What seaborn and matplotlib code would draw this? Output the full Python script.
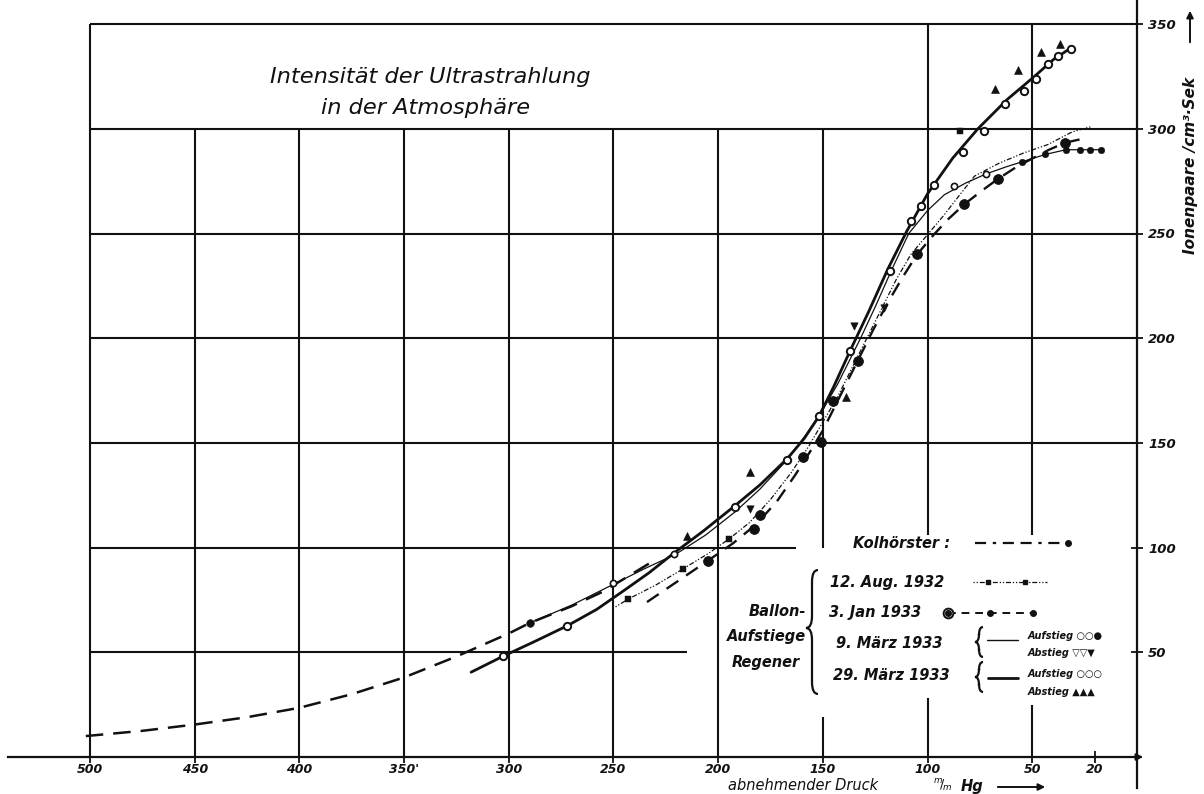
import numpy as np
import pandas as pd
import matplotlib
matplotlib.use("Agg")
import matplotlib.pyplot as plt
from matplotlib.path import Path
from matplotlib.patches import PathPatch
import seaborn as sns

sns.set_theme(style="white")
plt.rcParams["font.family"] = ["DejaVu Sans"]
INK = "#111111"

# ---- data (pressure mm Hg, ion pairs / cm3 s) ----
kol_p = [502, 475, 450, 425, 400, 375, 350, 325, 300, 290, 270, 255, 232]
kol_i = [10, 12.5, 15.5, 19, 23.5, 30, 38, 48, 59, 64, 72, 79, 93]
kol_dot_p = [290]
kol_dot_i = [64]

m29_p = [318, 303, 288, 272, 258, 245, 233, 221, 207, 192, 180, 167, 159, 152, 145,
         137, 128, 119, 110, 100, 88, 76, 62, 49, 40, 31]
m29_i = [40.5, 48, 55, 62.7, 70.5, 79.5, 88, 97.5, 108, 120, 130, 142.5, 152, 162.5, 176.5,
         194, 213, 233, 251, 269, 286, 300, 314, 325, 333, 339]
m29_up_p = [303, 272, 192, 167, 152, 137, 118, 108, 103, 97, 83, 73, 63, 54, 48, 42.5, 37.7, 31.6]
m29_up_i = [48, 62.7, 119.4, 142, 163, 194, 232, 256, 263, 273, 289, 299, 312, 318, 324, 331, 335, 338]
m29_dn_p = [215, 185, 139, 68, 57, 46, 37]
m29_dn_i = [105.5, 136, 172, 319, 328, 336.5, 340.5]

m9_p = [290, 270, 250, 235, 220, 206, 192, 180, 167, 158, 150, 143, 136, 132, 125,
        117, 109, 100, 92, 82, 72, 62, 55, 44, 34, 25, 17]
m9_i = [64, 72.5, 82.5, 90, 97, 106, 117, 128, 142, 154, 166, 178, 192, 200, 215,
        233, 250, 261, 268.5, 274, 278.5, 282, 284.2, 287.7, 290, 290, 290]
m9_up_open_p = [250, 221, 87.5, 72]
m9_up_open_i = [83, 96.8, 272.6, 278.5]
m9_up_full_p = [55, 44, 34, 27, 22.5, 17]
m9_up_full_i = [284, 288, 290, 290, 290, 290]
m9_dn_p = [185, 135, 121]
m9_dn_i = [118.6, 206, 214.6]

a12_p = [249, 243, 230, 217, 205, 195, 185, 175, 165, 157, 150, 143, 136, 129, 122,
         115, 108, 100, 92, 85, 77.6, 66, 54, 42.5, 31, 22]
a12_i = [71.7, 75.4, 82, 89.7, 97, 104, 112, 123, 136, 148, 160, 172, 186, 200, 214,
         228, 240, 249.5, 259, 268, 277.4, 283.5, 288.5, 292.5, 298.5, 301]
a12_sq_p = [243, 217, 195, 84.5]
a12_sq_i = [75.4, 90, 104, 299]

j3_p = [234, 220, 205, 193, 182, 172, 163, 156, 150, 144, 138, 132, 126, 119, 112,
        105, 97, 90, 82.4, 74, 66.5, 58, 49.7, 42, 34.5, 27]
j3_i = [74, 83.5, 93.7, 102, 111, 122, 135, 146, 156, 168, 180, 192, 204, 217, 229,
        240, 249.5, 257, 264, 270.5, 276, 281.5, 286, 290, 293.3, 295]
j3_dot_p = [205, 183, 180, 159.5, 151, 145, 133, 105, 82.4, 66.5, 34.5]
j3_dot_i = [93.7, 109, 115.4, 143.2, 150.3, 170, 189, 240, 264, 276, 293]

x_ticks = [500, 450, 400, 350, 300, 250, 200, 150, 100, 50, 20]
x_tick_labels = ["500", "450", "400", "350'", "300", "250", "200", "150", "100", "50", "20"]
y_ticks = [50, 100, 150, 200, 250, 300, 350]

# ---- figure: one axes over the whole canvas, reversed pressure axis ----
W, H = 1204, 794
PX = 2.094
fig = plt.figure(figsize=(W / 100, H / 100), dpi=100)
ax = fig.add_axes([0, 0, 1, 1])
ax.set_xlim(500 + 90 / PX, 500 - (W - 90) / PX)
ax.set_ylim(-(H - 757) / PX, 757 / PX)
ax.set_facecolor("white")

fx = lambda px: px / W
fy = lambda py: 1 - py / H

# grid of the drawing (with gaps for title and legend)
hl = [(350, 500, 0), (300, 500, 0), (250, 500, 0), (200, 500, 0), (150, 500, 0),
      (100, 500, 163), (50, 500, 215)]
for y, a, b in hl:
    ax.hlines(y, b, a, color=INK, lw=1.5, zorder=1)
vl = [(500, 0, 350), (450, 0, 300), (400, 0, 300), (350, 0, 300), (300, 0, 300),
      (250, 0, 300), (200, 0, 300), (150, 100, 300), (150, 0, 19),
      (100, 106, 350), (100, 0, 28), (50, 106, 350), (50, 0, 25)]
for x, a, b in vl:
    ax.vlines(x, a, b, color=INK, lw=1.5, zorder=1)

# axes as in the original: x-axis on I=0, intensity scale on p=0
for s in ["left", "top"]:
    ax.spines[s].set_visible(False)
ax.spines["bottom"].set_position(("data", 0))
ax.spines["bottom"].set_bounds(539, 0)
ax.spines["right"].set_position(("data", 0))
ax.spines["right"].set_bounds(-15, 361)
for s in ["bottom", "right"]:
    ax.spines[s].set_color(INK)
    ax.spines[s].set_linewidth(1.6)
ax.xaxis.set_ticks_position("bottom")
ax.yaxis.set_ticks_position("right")
ax.set_xticks(x_ticks)
ax.set_xticklabels(x_tick_labels)
ax.set_yticks(y_ticks)
ax.tick_params(axis="x", direction="inout", length=8, width=1.3, pad=0.5, labelsize=9, colors=INK)
ax.tick_params(axis="y", direction="inout", length=8, width=1.3, pad=4, labelsize=9.5, colors=INK)
for lbl in ax.get_xticklabels() + ax.get_yticklabels():
    lbl.set_fontstyle("italic")
    lbl.set_fontweight("bold")
ax.annotate("", xy=(fx(1146), fy(757)), xytext=(fx(1125), fy(757)), xycoords="axes fraction",
            arrowprops=dict(arrowstyle="-|>", color=INK, lw=1.4, mutation_scale=10))

# ---- curves ----
sns.lineplot(x=kol_p, y=kol_i, sort=False, estimator=None, ax=ax, color=INK, lw=1.8,
             linestyle=(0, (7, 4)))
sns.lineplot(x=m29_p, y=m29_i, sort=False, estimator=None, ax=ax, color=INK, lw=2.0)
sns.lineplot(x=m9_p, y=m9_i, sort=False, estimator=None, ax=ax, color=INK, lw=0.9)
sns.lineplot(x=a12_p, y=a12_i, sort=False, estimator=None, ax=ax, color=INK, lw=0.9,
             linestyle=(0, (1, 1.5, 1, 1.5, 4, 1.5)))
sns.lineplot(x=j3_p, y=j3_i, sort=False, estimator=None, ax=ax, color=INK, lw=1.7,
             linestyle=(0, (6, 4)))

# ---- measured points ----
sc = dict(ax=ax, legend=False, zorder=4)
sns.scatterplot(x=kol_dot_p, y=kol_dot_i, marker="o", s=30, color=INK, edgecolor=INK, **sc)
sns.scatterplot(x=m29_up_p, y=m29_up_i, marker="o", s=28, facecolor="white", edgecolor=INK,
                linewidth=1.4, **sc)
sns.scatterplot(x=m29_dn_p, y=m29_dn_i, marker="^", s=32, color=INK, edgecolor=INK, **sc)
sns.scatterplot(x=m9_up_open_p, y=m9_up_open_i, marker="o", s=20, facecolor="white",
                edgecolor=INK, linewidth=1.2, **sc)
sns.scatterplot(x=m9_up_full_p, y=m9_up_full_i, marker="o", s=22, color=INK, edgecolor=INK, **sc)
sns.scatterplot(x=m9_dn_p, y=m9_dn_i, marker="v", s=28, color=INK, edgecolor=INK, **sc)
sns.scatterplot(x=a12_sq_p, y=a12_sq_i, marker="s", s=16, color=INK, edgecolor=INK, **sc)
sns.scatterplot(x=j3_dot_p, y=j3_dot_i, marker="o", s=50, color=INK, edgecolor=INK, **sc)

# ---- title ----
tkw = dict(transform=ax.transAxes, color=INK, fontstyle="italic", ha="center", va="center")
ax.text(fx(430), fy(77), "Intensität der Ultrastrahlung", fontsize=16.2, fontweight="medium", **tkw)
ax.text(fx(426), fy(108), "in der Atmosphäre", fontsize=16.2, fontweight="medium", **tkw)

# ---- axis labels ----
ax.text(fx(1190), fy(165), "Ionenpaare /cm³·Sek", rotation=90, fontsize=11,
        fontweight="bold", **tkw)
ax.annotate("", xy=(fx(1190), fy(8)), xytext=(fx(1190), fy(45)), xycoords="axes fraction",
            arrowprops=dict(arrowstyle="-|>", color=INK, lw=1.4, mutation_scale=10))
ax.text(fx(803), fy(786), "abnehmender Druck", fontsize=10.5, **tkw)
ax.text(fx(943), fy(786), r"$^{m}\!/\!_{m}$", fontsize=9, **tkw)
ax.text(fx(972), fy(786), "Hg", fontsize=10.5, fontweight="bold", **tkw)
ax.annotate("", xy=(fx(1048), fy(787)), xytext=(fx(995), fy(787)), xycoords="axes fraction",
            arrowprops=dict(arrowstyle="-|>", color=INK, lw=1.4, mutation_scale=10))

# ---- hand-drawn style legend ----
def brace(x, y0, ym, y1, w):
    pts = [(x, y0), (x - w / 2, y0), (x - w / 2, y0 + w), (x - w / 2, ym - w),
           (x - w / 2, ym), (x - w, ym), (x - w / 2, ym), (x - w / 2, ym + w),
           (x - w / 2, y1 - w), (x - w / 2, y1), (x, y1)]
    codes = [Path.MOVETO, Path.CURVE3, Path.CURVE3, Path.LINETO, Path.CURVE3, Path.CURVE3,
             Path.CURVE3, Path.CURVE3, Path.LINETO, Path.CURVE3, Path.CURVE3]
    verts = [(fx(a), fy(b)) for a, b in pts]
    ax.add_patch(PathPatch(Path(verts, codes), transform=ax.transAxes, fill=False,
                           edgecolor=INK, lw=1.6))

lkw = dict(transform=ax.transAxes, color=INK, fontstyle="italic", fontweight="bold", va="center")
ax.text(fx(853), fy(543), "Kolhörster :", fontsize=10.5, ha="left", **lkw)
ax.plot([fx(975), fx(1068)], [fy(543)] * 2, transform=ax.transAxes, color=INK, lw=1.6,
        linestyle=(0, (5, 3, 1.5, 3, 5, 3)))
ax.plot([fx(1068)], [fy(543)], "o", ms=4, color=INK, transform=ax.transAxes)

ax.text(fx(830), fy(582), "12. Aug. 1932", fontsize=10.5, ha="left", **lkw)
ax.plot([fx(973), fx(1047)], [fy(582)] * 2, transform=ax.transAxes, color=INK, lw=0.9,
        linestyle=(0, (1, 1.5, 1, 1.5, 4, 1.5)))
ax.plot([fx(988), fx(1025)], [fy(582)] * 2, "s", ms=3.5, color=INK, transform=ax.transAxes)

ax.text(fx(829), fy(613), "3. Jan 1933", fontsize=10.5, ha="left", **lkw)
ax.plot([fx(948), fx(1033)], [fy(613)] * 2, transform=ax.transAxes, color=INK, lw=1.4,
        linestyle=(0, (4, 3)))
ax.plot([fx(948)], [fy(613)], "o", ms=7, mfc="white", mec=INK, mew=1.4, transform=ax.transAxes)
ax.plot([fx(948), fx(990), fx(1033)], [fy(613)] * 3, "o", ms=4, color=INK, transform=ax.transAxes)

ax.text(fx(836), fy(643), "9. März 1933", fontsize=10.5, ha="left", **lkw)
brace(983, 627, 642, 657, 8)
ax.plot([fx(987), fx(1018)], [fy(640)] * 2, transform=ax.transAxes, color=INK, lw=1.0)
ax.text(fx(1028), fy(636), "Aufstieg ○○●", fontsize=7, ha="left", **lkw)
ax.text(fx(1028), fy(653), "Abstieg ▽▽▼", fontsize=7, ha="left", **lkw)

ax.text(fx(833), fy(675), "29. März 1933", fontsize=10.5, ha="left", **lkw)
brace(983, 662, 677, 692, 8)
ax.plot([fx(988), fx(1018)], [fy(678)] * 2, transform=ax.transAxes, color=INK, lw=2.0)
ax.text(fx(1028), fy(674), "Aufstieg ○○○", fontsize=7, ha="left", **lkw)
ax.text(fx(1028), fy(692), "Abstieg ▲▲▲", fontsize=7, ha="left", **lkw)

brace(818, 570, 628, 694, 12)
ax.text(fx(806), fy(612), "Ballon-", fontsize=10.5, ha="right", **lkw)
ax.text(fx(806), fy(637), "Aufstiege", fontsize=10.5, ha="right", **lkw)
ax.text(fx(800), fy(663), "Regener", fontsize=10.5, ha="right", **lkw)

fig.savefig("out.png", dpi=100, facecolor="white")
